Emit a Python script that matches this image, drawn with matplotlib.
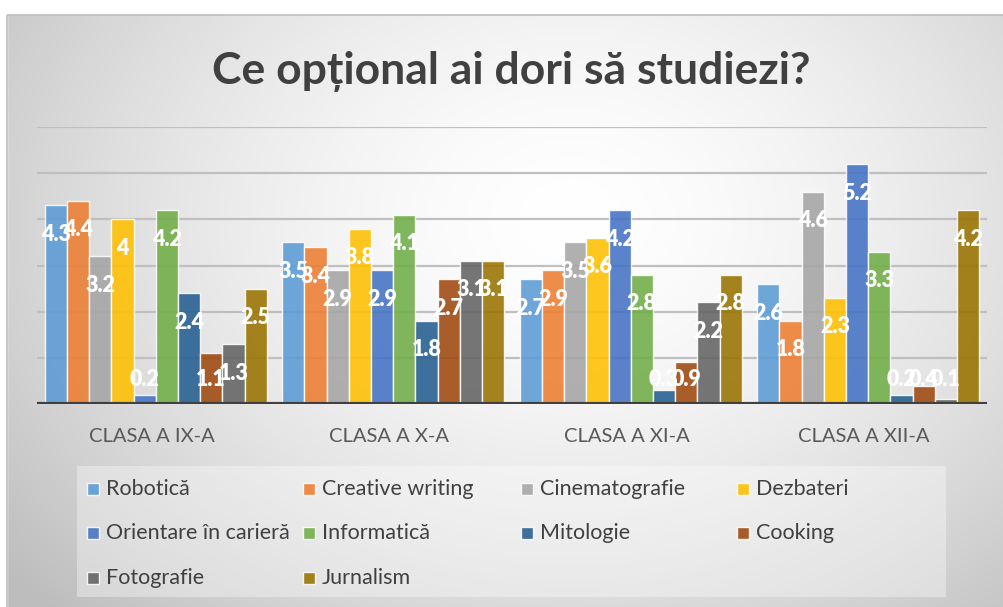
import numpy as np
import matplotlib
matplotlib.use("Agg")
import matplotlib.pyplot as plt
from matplotlib.patches import Rectangle

plt.rcParams['font.family'] = ['Lato', 'DejaVu Sans']

title = "Ce opțional ai dori să studiezi?"
classes = ["CLASA A IX-A", "CLASA A X-A", "CLASA A XI-A", "CLASA A XII-A"]
subjects = ["Robotică", "Creative writing", "Cinematografie", "Dezbateri",
            "Orientare în carieră", "Informatică", "Mitologie", "Cooking",
            "Fotografie", "Jurnalism"]
colors = ["#5B9BD5", "#ED7D31", "#A5A5A5", "#FFC000", "#4472C4",
          "#70AD47", "#255E91", "#9E480E", "#636363", "#997300"]

robotica = [4.3, 3.5, 2.7, 2.6]
creative = [4.4, 3.4, 2.9, 1.8]
cinema = [3.2, 2.9, 3.5, 4.6]
dezbateri = [4.0, 3.8, 3.6, 2.3]
orientare = [0.2, 2.9, 4.2, 5.2]
informatica = [4.2, 4.1, 2.8, 3.3]
mitologie = [2.4, 1.8, 0.3, 0.2]
cooking = [1.1, 2.7, 0.9, 0.4]
fotografie = [1.3, 3.1, 2.2, 0.1]
jurnalism = [2.5, 3.1, 2.8, 4.2]
series = [robotica, creative, cinema, dezbateri, orientare,
          informatica, mitologie, cooking, fotografie, jurnalism]

W, H = 1004, 607
fig = plt.figure(figsize=(W / 100, H / 100), dpi=100)
fig.patch.set_facecolor("white")

# radial grey gradient behind the chart
bg = fig.add_axes([0, 0, 1, 1], zorder=-2)
yy, xx = np.mgrid[0:H, 0:W]
d = np.sqrt(((xx - 570) / 600.0) ** 2 + ((yy - 220) / 470.0) ** 2)
g = 255 - 66 * (np.clip(d, 0, 1.2) / 1.2) ** 1.6
g = g / 255.0
img = np.dstack([g, g, g])
bg.imshow(img, extent=(0, W, H, 0), aspect="auto", interpolation="bilinear")
bg.set_xlim(0, W)
bg.set_ylim(H, 0)
bg.axis("off")
# white margin at the top and left, thin frame
bg.add_patch(Rectangle((0, 0), W, 14, color="white", zorder=2))
bg.add_patch(Rectangle((0, 0), 7, H, color="white", zorder=2))
bg.add_patch(Rectangle((7.5, 14.5), W, H, fill=False, ec="#BDBDBD", lw=1.2, zorder=3))

# plot area
ax = fig.add_axes([37 / W, 1 - 404 / H, 950 / W, 277 / H])
ax.set_facecolor("none")
ax.set_xlim(-0.5, len(classes) - 0.5)
ax.set_ylim(0, 6)
for s in ax.spines.values():
    s.set_visible(False)
ax.set_xticks([])
ax.set_yticks([])
for y in range(1, 7):
    ax.axhline(y, color="#BFBFBF", lw=1.6, zorder=0)

n = len(series)
bw = 0.0935
x = np.arange(len(classes))
for j, (vals, c) in enumerate(zip(series, colors)):
    xs = x + (j - (n - 1) / 2) * bw
    ax.bar(xs, vals, width=bw, color=c, alpha=0.88, edgecolor=(1, 1, 1, 0.6),
           lw=1.0, zorder=2)
    for xi, v in zip(xs, vals):
        ax.text(xi, max(v - 0.63, 0.54), f"{v:g}", ha="center", va="center",
                color="white", fontsize=15.5, fontweight="heavy", zorder=4)
ax.axhline(0, color="#404040", lw=3, zorder=3)

# overlay in pixel coordinates for title, category labels and legend
ov = fig.add_axes([0, 0, 1, 1], zorder=5)
ov.set_xlim(0, W)
ov.set_ylim(H, 0)
ov.axis("off")
ov.patch.set_alpha(0)

ov.text(511, 72, title, ha="center", va="center", fontsize=32,
        fontweight="bold", color="#404040")

for i, name in enumerate(classes):
    cx = ax.transData.transform((i, 0))[0]
    ov.text(cx - 4, 436, name, ha="center", va="center", fontsize=14.5,
            color="#595959")

ov.add_patch(Rectangle((77, 466), 869, 131, color="white", alpha=0.35, lw=0))
col_x = [87, 303, 521, 737]
row_y = [489, 533, 578]
for k, (name, c) in enumerate(zip(subjects, colors)):
    r, col = divmod(k, 4)
    mx, my = col_x[col], row_y[r]
    ov.add_patch(Rectangle((mx, my - 6), 12, 12, facecolor=c, alpha=0.88,
                           edgecolor=(1, 1, 1, 0.6), lw=1))
    ov.text(mx + 19, my, name, ha="left", va="center", fontsize=15.5,
            color="#404040")

fig.savefig("out.png", dpi=100)
